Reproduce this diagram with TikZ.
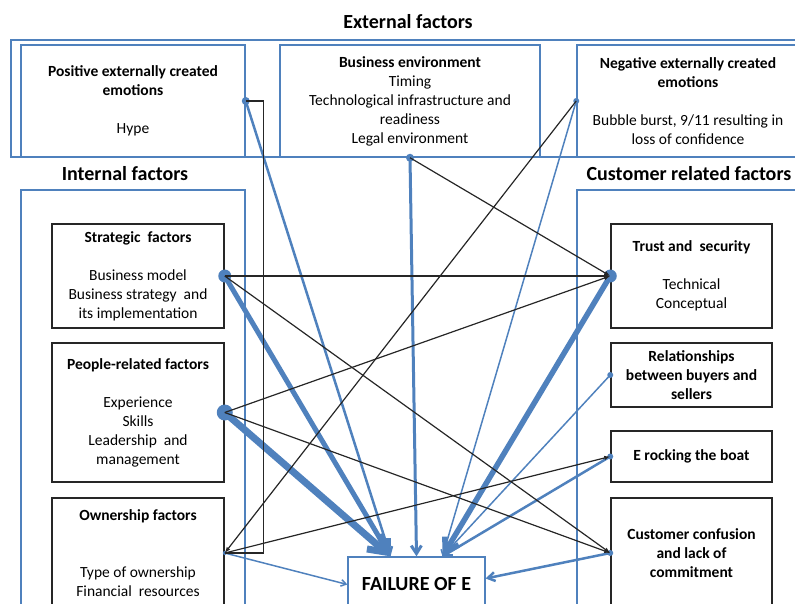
\documentclass[tikz,border=0pt]{standalone}
\usepackage{fontspec}
\setmainfont{Carlito}
\usepackage{tikz}
\usetikzlibrary{arrows.meta}
\definecolor{eblue}{RGB}{79,129,189}
\tikzstyle{group}=[draw=eblue, line width=1.5pt, inner sep=0pt]
\tikzstyle{factor}=[
	 draw=black!85, line width=1.5pt,
	 align=center, inner sep=0pt,
	 font=\fontsize{15.5}{19}\selectfont
    ]
\tikzstyle{heading}=[font=\fontsize{20}{24}\selectfont\bfseries]
\tikzstyle{blk}=[draw=black!85, line width=1.2pt, -{Latex[length=6pt,width=4.5pt]}]
\tikzstyle{blu}=[draw=eblue, -{Straight Barb[length=2pt 2,width=3pt 2.4]}]
\newcommand{\bdot}[2]{\fill[eblue] (#1) circle (#2)}

\begin{document}
\begin{tikzpicture}[x=1pt,y=-1pt]
\useasboundingbox (0,0) rectangle (795,604);
\clip (0,0) rectangle (795,604);

% headings
\node[heading] (exttitle) at (408,22) {External factors};
\node[heading] (inttitle) at (125,174) {Internal factors};
\node[heading] (custtitle) at (689,174) {Customer related factors};

% group frames
\node[group, minimum width=794pt, minimum height=117pt] (ext) at (408,98.5) {};
\node[group, minimum width=224pt, minimum height=430pt] (int) at (133,405) {};
\node[group, minimum width=228pt, minimum height=430pt] (cust) at (691,405) {};

% external factors
\node[factor, draw=eblue, minimum width=224pt, minimum height=112pt] (pos) at (133,101)
  {\textbf{Positive externally created}\\\textbf{emotions}\\[19pt]Hype};
\node[factor, draw=eblue, minimum width=260pt, minimum height=112pt] (benv) at (410,101)
  {\textbf{Business environment}\\Timing\\Technological infrastructure and\\readiness\\Legal environment};
\node[factor, draw=eblue, minimum width=222pt, minimum height=112pt] (neg) at (688,101)
  {\textbf{Negative externally created}\\\textbf{emotions}\\[19pt]Bubble burst, 9/11 resulting in\\loss of confidence};

% internal factors
\node[factor, minimum width=172pt, minimum height=104pt] (strat) at (138,276)
  {\textbf{Strategic\ \ factors}\\[19pt]Business model\\Business strategy\ \ and\\its implementation};
\node[factor, minimum width=172pt, minimum height=139pt] (people) at (138,412.5)
  {\textbf{People-related factors}\\[19pt]Experience\\Skills\\Leadership\ \ and\\management};
\node[factor, minimum width=172pt, minimum height=110pt] (own) at (138,553)
  {\textbf{Ownership factors}\\[38pt]Type of ownership\\Financial\ \ resources};

% customer related factors
\node[factor, minimum width=161pt, minimum height=104pt] (trust) at (691.5,276)
  {\textbf{Trust and\ \ security}\\[19pt]Technical\\Conceptual};
\node[factor, minimum width=161pt, minimum height=64pt] (rel) at (691.5,375)
  {\textbf{Relationships}\\\textbf{between buyers and}\\\textbf{sellers}};
\node[factor, minimum width=161pt, minimum height=51pt] (rock) at (691.5,456.5)
  {\textbf{E rocking the boat}};
\node[factor, minimum width=161pt, minimum height=110pt] (conf) at (691.5,553)
  {\textbf{Customer confusion}\\\textbf{and lack of}\\\textbf{commitment}};

% outcome
\node[group, line width=1.3pt, minimum width=137pt, minimum height=55pt,
  font=\fontsize{20}{24}\selectfont\bfseries] (fail) at (416.5,584.5) {FAILURE OF E};
\coordinate (failL) at ([xshift=-26pt]fail.north);
\coordinate (failR) at ([xshift=26pt]fail.north);

% influences on failure
\draw[blu, line width=2.5pt] (pos.east) -- (failL);
\draw[blu, line width=5pt] (strat.east) -- (failL);
\draw[blu, line width=7pt] (people.east) -- (failL);
\draw[blu, line width=3pt] (benv.south) -- (fail.north);
\draw[blu, line width=1.5pt] (neg.west) -- (failR);
\draw[blu, line width=1.5pt] (rel.west) -- (failR);
\draw[blu, line width=5.5pt] (trust.west) -- (failR);
\draw[blu, line width=2.5pt] (rock.west) -- (failR);
\draw[blu, line width=2.5pt] (conf.west) -- ([yshift=6pt]fail.east);
\draw[blu, line width=1.5pt] (own.east) -- (fail.west);

% dots
\bdot{pos.east}{4pt};
\bdot{benv.south}{4pt};
\bdot{neg.west}{3pt};
\bdot{strat.east}{6.5pt};
\bdot{people.east}{8pt};
\bdot{own.east}{2pt};
\bdot{trust.west}{6.5pt};
\bdot{rel.west}{3pt};
\bdot{rock.west}{3pt};
\bdot{conf.west}{3pt};

% links between factors
\draw[black!85, line width=1.3pt] (pos.east) -- ++(18,0) |- (own.east);
\foreach \src in {benv.south, strat.east, people.east}
  \draw[blk] (\src) -- (trust.west);
\foreach \src in {strat.east, people.east}
  \draw[blk] (\src) -- (conf.west);
\draw[blk] (neg.west) -- (own.east);
\draw[blk] (own.east) -- (rock.west);

\end{tikzpicture}
\end{document}
